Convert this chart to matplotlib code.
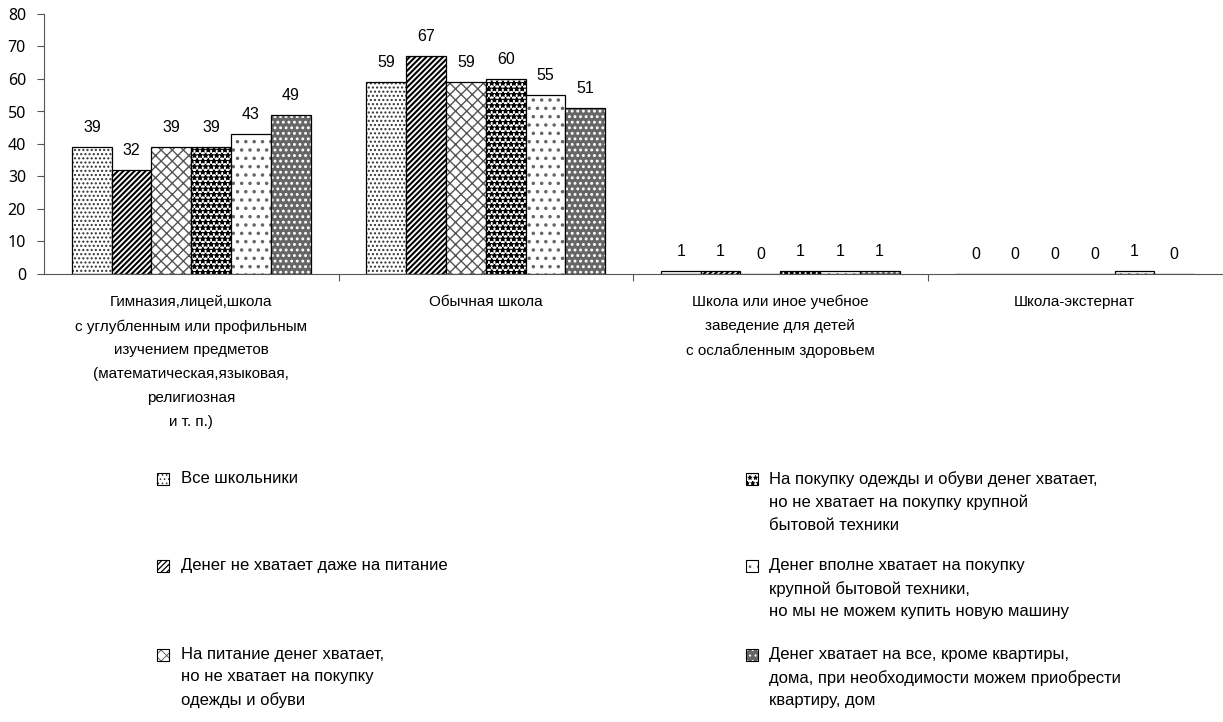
import numpy as np
import matplotlib
matplotlib.use("Agg")
import matplotlib.pyplot as plt
from matplotlib.patches import Rectangle

# categories (x axis) and series
categories = [
    "Гимназия,лицей,школа\nс углубленным или профильным\nизучением предметов\n(математическая,языковая,\nрелигиозная\nи т. п.)",
    "Обычная школа",
    "Школа или иное учебное\nзаведение для детей\nс ослабленным здоровьем",
    "Школа-экстернат",
]
series_names = [
    "Все школьники",
    "Денег не хватает даже на питание",
    "На питание денег хватает,\nно не хватает на покупку\nодежды и обуви",
    "На покупку одежды и обуви денег хватает,\nно не хватает на покупку крупной\nбытовой техники",
    "Денег вполне хватает на покупку\nкрупной бытовой техники,\nно мы не можем купить новую машину",
    "Денег хватает на все, кроме квартиры,\nдома, при необходимости можем приобрести\nквартиру, дом",
]
all_students = [39, 59, 1, 0]
no_food = [32, 67, 1, 0]
food_only = [39, 59, 0, 0]
clothes_ok = [39, 60, 1, 0]
appliances_ok = [43, 55, 1, 1]
all_but_flat = [49, 51, 1, 0]
series_values = [all_students, no_food, food_only, clothes_ok, appliances_ok, all_but_flat]
y_ticks = list(range(0, 81, 10))

# fill styles: face colour, hatch, hatch colour, hatch line width
styles = [
    ("white", "....", "#333333", 1.0),
    ("white", "//////", "black", 1.5),
    ("white", "xxx", "#555555", 1.0),
    ("white", "***", "black", 1.0),
    ("white", "..", "#666666", 1.3),
    ("#666666", "...", "white", 1.3),
]

FONT = ["Liberation Sans", "DejaVu Sans"]

W, H = 1223, 722
fig = plt.figure(figsize=(W / 100, H / 100), dpi=100)
ax = fig.add_axes([44 / W, 1 - 274 / H, 1178 / W, 260 / H])


def fig_xy(px, py):
    return px / W, 1 - py / H


def styled_patch_kwargs(style):
    face, hatch, hcolor, hlw = style
    return dict(facecolor=face, edgecolor=hcolor, linewidth=0, hatch=hatch), hlw


n = len(series_values)
group_w = 0.81
bar_w = group_w / n
centers = np.arange(len(categories)) + 0.5

for i, vals in enumerate(series_values):
    xs = centers + (i - (n - 1) / 2) * bar_w
    kw, hlw = styled_patch_kwargs(styles[i])
    with plt.rc_context({"hatch.linewidth": hlw}):
        ax.bar(xs, vals, bar_w, **kw)
    ax.bar(xs, vals, bar_w, fill=False, edgecolor="black", linewidth=0.9)
    for xv, v in zip(xs, vals):
        ax.annotate(str(v), (xv, v), xytext=(0, 14), textcoords="offset points",
                    ha="center", va="center", fontsize=11.5, family=FONT)

ax.set_xlim(0, len(categories))
ax.set_ylim(0, 80)
ax.set_yticks(y_ticks)
ax.set_yticklabels([str(t) for t in y_ticks], fontsize=11.5, family=["Noto Sans", "DejaVu Sans"])
ax.set_xticks(np.arange(1, len(categories)))
ax.set_xticklabels([])
ax.set_xticks(centers, minor=True)
ax.set_xticklabels(categories, minor=True, fontsize=11, family=FONT, linespacing=1.9)
ax.tick_params(axis="x", which="major", length=5, color="#555555")
ax.tick_params(axis="x", which="minor", length=0, pad=15)
ax.tick_params(axis="y", length=5, color="#555555", pad=8)
for side in ("top", "right"):
    ax.spines[side].set_visible(False)
for side in ("left", "bottom"):
    ax.spines[side].set_color("#555555")

# legend drawn by hand: two columns, rows aligned to the first line
legend_rows = [479, 566, 655]
legend_cols = [(157, 181), (746, 769)]
for i, name in enumerate(series_names):
    col, row = divmod(i, 3)
    bx, tx = legend_cols[col]
    cy = legend_rows[row]
    kw, hlw = styled_patch_kwargs(styles[i])
    x0, y0 = fig_xy(bx, cy + 6)
    with plt.rc_context({"hatch.linewidth": hlw * 0.6}):
        fig.add_artist(Rectangle((x0, y0), 12 / W, 12 / H, transform=fig.transFigure, **kw))
    fig.add_artist(Rectangle((x0, y0), 12 / W, 12 / H, transform=fig.transFigure,
                             fill=False, edgecolor="black", linewidth=0.8))
    tx0, ty0 = fig_xy(tx, cy - 8)
    fig.text(tx0, ty0, name, ha="left", va="top", fontsize=12, family=FONT,
             linespacing=1.62)

fig.savefig("out.png", dpi=100)
